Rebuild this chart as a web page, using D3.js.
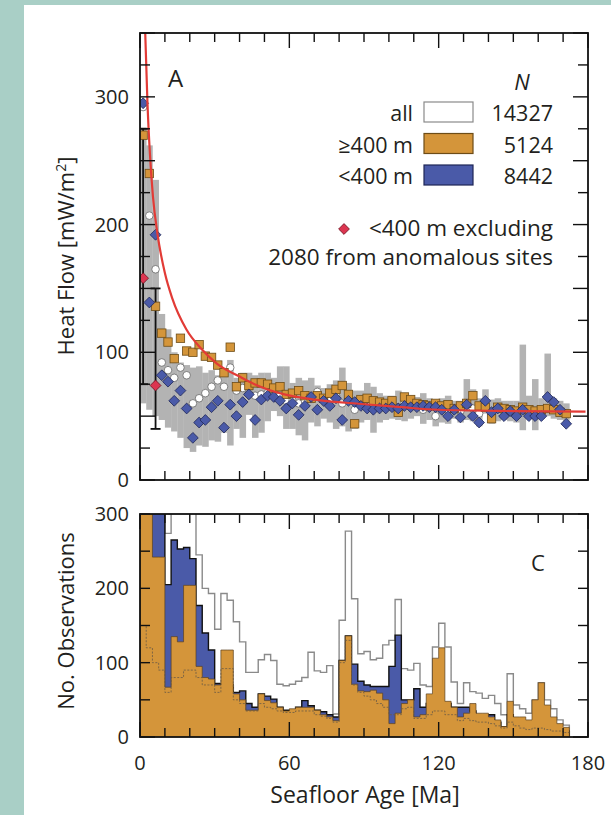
<!DOCTYPE html>
<html>
<head>
<meta charset="utf-8">
<script src="https://cdn.jsdelivr.net/npm/d3@7"></script>
<style>
body { margin: 0; background: #a9cfc6; }
text { font-family: "Open Sans", sans-serif; fill: #231f20; }
</style>
</head>
<body>
<div id="chart"></div>
<script>
// 2.5 Ma age bins
var binStart = [0, 2.5, 5, 7.5, 10, 12.5, 15, 17.5, 20, 22.5, 25, 27.5, 30, 32.5, 35, 37.5, 40, 42.5, 45, 47.5,
    50, 52.5, 55, 57.5, 60, 62.5, 65, 67.5, 70, 72.5, 75, 77.5, 80, 82.5, 85, 87.5, 90, 92.5, 95, 97.5,
    100, 102.5, 105, 107.5, 110, 112.5, 115, 117.5, 120, 122.5, 125, 127.5, 130, 132.5, 135, 137.5, 140, 142.5, 145, 147.5,
    150, 152.5, 155, 157.5, 160, 162.5, 165, 167.5, 170];
var binWidth = 2.5;

// panel A: mean heat flow per bin
var hfAll = [292, 207, 165, 92, 86, 80, 88, 82, 60, 64, 68, 73, 78, 73, 88, 70, 72, 68, 66, 67,
    68, 66, 66, 62, 62, 60, 62, 64, 69, 63, 62, 66, 60, 64, 55, 60, 58, 57, 58, 58,
    58, 57, 60, 59, 58, 55, 57, 50, 56, 55, 55, 54, 59, 56, 52, 58, 54, 56, 54, 54,
    53, 56, 53, 52, 53, 56, 56, 54, 52];
var hfDeep = [270, 240, 136, 115, 108, 95, 111, 101, 100, 106, 97, 96, 90, 84, 104, 73, 80, 74, 76, 76,
    75, 72, 73, 67, 68, 70, 66, 64, 66, 64, 68, 71, 74, 67, 44, 63, 64, 62, 61, 60,
    62, 53, 65, 63, 60, 59, 58, 60, 58, 59, 56, 58, 60, 66, 58, 57, 48, 57, 56, 55,
    54, 57, 55, 54, 55, 56, 55, 53, 52];
var hfShallow = [295, 139, 192, 82, 77, 62, 70, 56, 33, 45, 47, 57, 62, 41, 59, 50, 61, 67, 47, 63,
    66, 65, 62, 56, 60, 51, 58, 65, 55, 62, 58, 64, 47, 62, 61, 58, 56, 55, 56, 56,
    57, 56, 58, 57, 57, 58, 57, 57, 55, 50, 55, 49, 59, 50, 45, 62, 53, 56, 50, 54,
    50, 55, 50, 50, 50, 65, 61, 55, 44];
var bandLo = [60, 55, 50, 47, 41, 38, 33, 25, 22, 27, 26, 31, 30, 37, 27, 40, 33, 51, 33, 37,
    46, 54, 50, 40, 40, 35, 31, 45, 42, 48, 45, 40, 42, 38, 40, 45, 47, 37, 45, 47,
    48, 47, 46, 48, 50, 44, 47, 42, 45, 44, 48, 45, 47, 46, 42, 52, 44, 46, 47, 46,
    45, 39, 48, 39, 48, 50, 48, 47, 45];
var bandHi = [276, 262, 235, 130, 118, 100, 92, 90, 88, 89, 84, 86, 82, 82, 94, 80, 84, 84, 82, 84,
    84, 80, 89, 89, 76, 80, 78, 80, 74, 72, 75, 78, 88, 76, 70, 70, 76, 73, 68, 66,
    66, 70, 68, 66, 65, 68, 64, 62, 64, 66, 62, 62, 79, 71, 64, 71, 63, 64, 62, 62,
    62, 106, 66, 79, 64, 99, 64, 62, 60];

// <400 m excluding anomalous sites, with error bars
var exclAge = [1.25, 6.25];
var exclHF = [158, 74];
var exclLo = [75, 40];
var exclHi = [275, 150];

// reference cooling curve
var curveAge = [2.1, 3, 4, 5.2, 7, 10, 13, 18.6, 25, 31, 40, 46, 58, 70, 89, 105, 120, 150, 179];
var curveHF = [350, 295, 255, 222, 193, 162, 142, 118, 102, 91, 81, 75, 67, 63, 59.5, 57, 55, 54, 53.5];

// panel C: number of observations per bin
var nAll = [400, 400, 380, 360, 274, 330, 320, 310, 305, 245, 200, 193, 145, 193, 184, 155, 128, 87, 87, 104,
    111, 103, 71, 69, 71, 75, 80, 114, 89, 87, 96, 31, 157, 277, 186, 112, 115, 104, 106, 124,
    130, 185, 92, 90, 99, 70, 68, 121, 153, 121, 74, 45, 73, 61, 59, 52, 56, 45, 30, 85,
    43, 38, 32, 50, 73, 50, 38, 23, 16];
var nShallow = [400, 350, 320, 310, 205, 265, 253, 255, 240, 177, 140, 117, 72, 70, 70, 60, 62, 45, 40, 58,
    55, 51, 40, 36, 36, 40, 49, 42, 36, 34, 30, 27, 103, 136, 98, 75, 70, 68, 68, 68,
    95, 137, 50, 50, 65, 40, 45, 40, 40, 45, 40, 40, 40, 35, 30, 30, 30, 20, 14, 30,
    25, 22, 15, 20, 25, 20, 15, 10, 8];
var nDeep = [380, 320, 242, 242, 67, 135, 128, 204, 204, 95, 80, 78, 70, 117, 117, 58, 50, 36, 36, 58,
    49, 46, 40, 35, 38, 40, 40, 40, 36, 30, 27, 22, 103, 136, 71, 62, 61, 63, 59, 50,
    18, 32, 45, 50, 27, 30, 58, 106, 120, 48, 40, 27, 32, 45, 32, 32, 27, 23, 14, 48,
    27, 27, 23, 50, 73, 43, 27, 18, 13];
var nExcl = [150, 120, 100, 90, 60, 80, 80, 90, 90, 80, 70, 70, 60, 92, 92, 50, 45, 35, 35, 45,
    40, 38, 35, 33, 33, 35, 35, 35, 30, 28, 25, 20, 100, 130, 70, 60, 55, 50, 45, 40,
    30, 30, 38, 40, 25, 25, 30, 35, 35, 30, 30, 22, 25, 22, 20, 20, 18, 15, 12, 20,
    15, 12, 10, 12, 12, 10, 8, 8, 6];

var ageTicks = [0, 60, 120, 180];
var hfTicks = [0, 100, 200, 300];
var nTicks = [0, 100, 200, 300];
var legendRows = [
    {label: "all", n: "14327", fill: "#ffffff", stroke: "#8a8a8a"},
    {label: "\u2265400 m", n: "5124", fill: "#d4953a", stroke: "#6d4c17"},
    {label: "<400 m", n: "8442", fill: "#4a5aa8", stroke: "#1e2656"}
];

var width = 611,
    height = 815;

var cOrange = "#d4953a",
    cBlue = "#4a5aa8",
    cGray = "#b3b3b3",
    cRed = "#e23b36";

var svg = d3.select("#chart").append("svg")
    .attr("width", width)
    .attr("height", height);

svg.append("rect").attr("width", width).attr("height", height).attr("fill", "#a9cfc6");
svg.append("rect").attr("x", 24).attr("y", 5).attr("width", width - 24).attr("height", height - 5).attr("fill", "#ffffff");

var x = d3.scaleLinear().domain([0, 180]).range([140, 588]);
var yA = d3.scaleLinear().domain([0, 350]).range([480, 33]);
var yC = d3.scaleLinear().domain([0, 300]).range([737, 514]);

var defs = svg.append("defs");
defs.append("clipPath").attr("id", "clipA").append("rect")
    .attr("x", 140).attr("y", 33).attr("width", 448).attr("height", 447);
defs.append("clipPath").attr("id", "clipC").append("rect")
    .attr("x", 140).attr("y", 514).attr("width", 448).attr("height", 223);

// ---------- panel A ----------
var gA = svg.append("g").attr("clip-path", "url(#clipA)");

gA.selectAll("rect.band")
    .data(binStart)
    .enter().append("rect")
    .attr("class", "band")
    .attr("x", function (d) { return x(d); })
    .attr("width", function (d) { return x(d + binWidth) - x(d) + 0.3; })
    .attr("y", function (d, i) { return yA(bandHi[i]); })
    .attr("height", function (d, i) { return yA(bandLo[i]) - yA(bandHi[i]); })
    .attr("fill", cGray);

// error bars
exclAge.forEach(function (a, i) {
    var g = gA.append("g").attr("stroke", "#111").attr("stroke-width", 1.8);
    g.append("line").attr("x1", x(a)).attr("x2", x(a)).attr("y1", yA(exclLo[i])).attr("y2", yA(exclHi[i]));
    g.append("line").attr("x1", x(a) - 5).attr("x2", x(a) + 5).attr("y1", yA(exclLo[i])).attr("y2", yA(exclLo[i]));
    g.append("line").attr("x1", x(a) - 5).attr("x2", x(a) + 5).attr("y1", yA(exclHi[i])).attr("y2", yA(exclHi[i]));
});

function mid(d) { return x(d + binWidth / 2); }
var diamond = "M0,-5.4L5.4,0L0,5.4L-5.4,0Z";

gA.selectAll("circle.all")
    .data(binStart)
    .enter().append("circle")
    .attr("cx", mid)
    .attr("cy", function (d, i) { return yA(hfAll[i]); })
    .attr("r", 3.8)
    .attr("fill", "#fff")
    .attr("stroke", "#666")
    .attr("stroke-width", 0.8);

gA.selectAll("rect.deep")
    .data(binStart)
    .enter().append("rect")
    .attr("x", function (d) { return mid(d) - 4.2; })
    .attr("y", function (d, i) { return yA(hfDeep[i]) - 4.2; })
    .attr("width", 8.4)
    .attr("height", 8.4)
    .attr("fill", cOrange)
    .attr("stroke", "#6d4c17")
    .attr("stroke-width", 0.8);

gA.selectAll("path.shallow")
    .data(binStart)
    .enter().append("path")
    .attr("d", diamond)
    .attr("transform", function (d, i) { return "translate(" + mid(d) + "," + yA(hfShallow[i]) + ")"; })
    .attr("fill", cBlue)
    .attr("stroke", "#1e2656")
    .attr("stroke-width", 0.8);

gA.selectAll("path.excl")
    .data(exclAge)
    .enter().append("path")
    .attr("d", diamond)
    .attr("transform", function (d, i) { return "translate(" + x(d) + "," + yA(exclHF[i]) + ")"; })
    .attr("fill", "#dc3550")
    .attr("stroke", "#6b1020")
    .attr("stroke-width", 0.8);

var line = d3.line()
    .x(function (d, i) { return x(curveAge[i]); })
    .y(function (d, i) { return yA(curveHF[i]); })
    .curve(d3.curveMonotoneX);

gA.append("path")
    .datum(curveAge)
    .attr("d", line)
    .attr("fill", "none")
    .attr("stroke", cRed)
    .attr("stroke-width", 2.2);

// ---------- panel C ----------
var gC = svg.append("g").attr("clip-path", "url(#clipC)");

function stepPts(vals) {
    var pts = binStart.map(function (d, i) { return [d, vals[i]]; });
    pts.push([binStart[binStart.length - 1] + binWidth, vals[vals.length - 1]]);
    return pts;
}

var step = d3.line()
    .x(function (d) { return x(d[0]); })
    .y(function (d) { return yC(d[1]); })
    .curve(d3.curveStepAfter);

function closed(vals) {
    var pts = stepPts(vals);
    pts.unshift([0, 0]);
    pts.push([binStart[binStart.length - 1] + binWidth, 0]);
    return pts;
}

gC.append("path").datum(closed(nAll)).attr("d", step)
    .attr("fill", "#fff").attr("stroke", "#8a8a8a").attr("stroke-width", 1.4);
gC.append("path").datum(closed(nShallow)).attr("d", step)
    .attr("fill", cBlue).attr("stroke", "#111").attr("stroke-width", 1.4);
gC.append("path").datum(closed(nDeep)).attr("d", step)
    .attr("fill", cOrange).attr("stroke", "#5a4020").attr("stroke-width", 0.7);
gC.append("path").datum(stepPts(nExcl)).attr("d", step)
    .attr("fill", "none").attr("stroke", "#6b5a45").attr("stroke-width", 0.8)
    .attr("stroke-dasharray", "2,1.5");

// ---------- axes ----------
var ageMinor = d3.range(0, 181, 10);

function xTicks(top, bottom) {
    [top, bottom].forEach(function (yy, k) {
        var dir = k === 0 ? 1 : -1;
        svg.append("g").selectAll("line")
            .data(ageMinor)
            .enter().append("line")
            .attr("x1", function (d) { return x(d); })
            .attr("x2", function (d) { return x(d); })
            .attr("y1", yy)
            .attr("y2", function (d) { return yy + dir * (d % 60 === 0 ? 15 : 9); })
            .attr("stroke", "#111").attr("stroke-width", 1.4);
    });
}
xTicks(33, 480);
xTicks(514, 737);

function yTicks(scale, values, majorEvery) {
    [140, 588].forEach(function (xx, k) {
        var dir = k === 0 ? 1 : -1;
        svg.append("g").selectAll("line")
            .data(values)
            .enter().append("line")
            .attr("x1", xx)
            .attr("x2", function (d) { return xx + dir * (d % majorEvery === 0 ? 15 : 10); })
            .attr("y1", function (d) { return scale(d); })
            .attr("y2", function (d) { return scale(d); })
            .attr("stroke", "#111").attr("stroke-width", 1.4);
    });
}
yTicks(yA, d3.range(0, 351, 25), 50);
yTicks(yC, d3.range(0, 301, 50), 1000);

[[33, 480], [514, 737]].forEach(function (r) {
    svg.append("rect")
        .attr("x", 140).attr("y", r[0]).attr("width", 448).attr("height", r[1] - r[0])
        .attr("fill", "none").attr("stroke", "#111").attr("stroke-width", 1.8);
});

svg.append("g").selectAll("text")
    .data(hfTicks)
    .enter().append("text")
    .attr("x", 129).attr("y", function (d) { return yA(d) + 7; })
    .attr("text-anchor", "end").attr("font-size", 20)
    .text(function (d) { return d; });

svg.append("g").selectAll("text")
    .data(nTicks)
    .enter().append("text")
    .attr("x", 129).attr("y", function (d) { return yC(d) + 7; })
    .attr("text-anchor", "end").attr("font-size", 20)
    .text(function (d) { return d; });

svg.append("g").selectAll("text")
    .data(ageTicks)
    .enter().append("text")
    .attr("x", function (d) { return x(d); }).attr("y", 770)
    .attr("text-anchor", "middle").attr("font-size", 20)
    .text(function (d) { return d; });

svg.append("text").attr("x", 365).attr("y", 803).attr("text-anchor", "middle")
    .attr("font-size", 23).text("Seafloor Age [Ma]");

var hfLabel = svg.append("text")
    .attr("transform", "translate(74,256) rotate(-90)")
    .attr("text-anchor", "middle").attr("font-size", 22);
hfLabel.append("tspan").text("Heat Flow [mW/m");
hfLabel.append("tspan").attr("font-size", 14).attr("dy", -8).text("2");
hfLabel.append("tspan").attr("dy", 8).text("]");

svg.append("text")
    .attr("transform", "translate(74,621) rotate(-90)")
    .attr("text-anchor", "middle").attr("font-size", 22)
    .text("No. Observations");

// ---------- legend ----------
svg.append("text").attr("x", 168).attr("y", 87).attr("font-size", 24).text("A");
svg.append("text").attr("x", 531).attr("y", 571).attr("font-size", 22).text("C");
svg.append("text").attr("x", 522).attr("y", 90).attr("text-anchor", "middle")
    .attr("font-size", 22).attr("font-style", "italic").text("N");

var leg = svg.append("g").selectAll("g")
    .data(legendRows)
    .enter().append("g")
    .attr("transform", function (d, i) { return "translate(0," + (102 + i * 31.5) + ")"; });
leg.append("rect")
    .attr("x", 424).attr("y", 0).attr("width", 49).attr("height", 20)
    .attr("fill", function (d) { return d.fill; })
    .attr("stroke", function (d) { return d.stroke; })
    .attr("stroke-width", 1.2);
leg.append("text").attr("x", 413).attr("y", 19).attr("text-anchor", "end")
    .attr("font-size", 21.5).text(function (d) { return d.label; });
leg.append("text").attr("x", 553).attr("y", 19).attr("text-anchor", "end")
    .attr("font-size", 21.5).text(function (d) { return d.n; });

svg.append("path").attr("d", diamond)
    .attr("transform", "translate(344,229)")
    .attr("fill", "#dc3550").attr("stroke", "#6b1020").attr("stroke-width", 0.8);
svg.append("text").attr("x", 553).attr("y", 236).attr("text-anchor", "end")
    .attr("font-size", 22.5).text("<400 m excluding");
svg.append("text").attr("x", 553).attr("y", 265).attr("text-anchor", "end")
    .attr("font-size", 22.5).text("2080 from anomalous sites");
</script>
</body>
</html>
